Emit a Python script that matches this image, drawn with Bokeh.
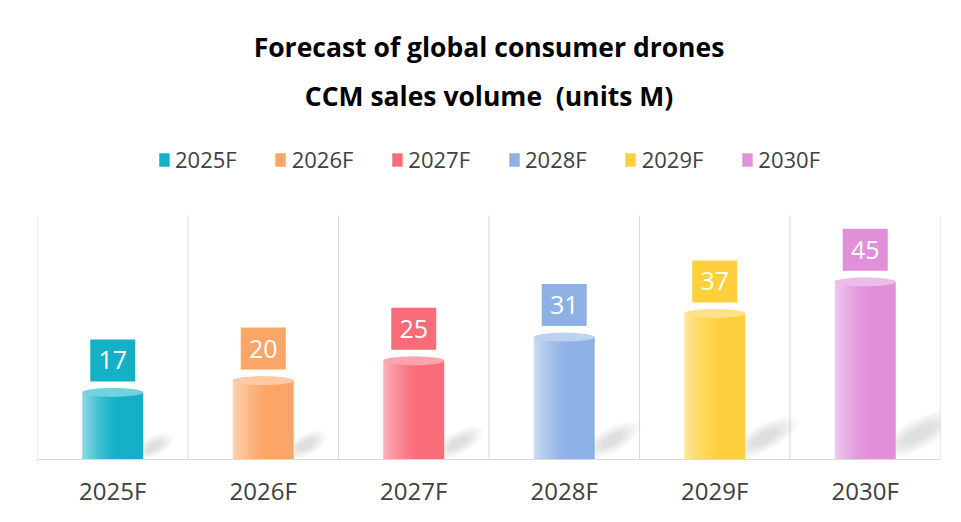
import numpy as np
from bokeh.plotting import figure
from bokeh.models import Range1d, FixedTicker, Legend, LegendItem, Label, ColumnDataSource
from bokeh.embed import file_html
from bokeh.resources import INLINE
from bokeh.core.properties import value

# ---------------- data ----------------
categories = ["2025F", "2026F", "2027F", "2028F", "2029F", "2030F"]
sales = [17, 20, 25, 31, 37, 45]
colors_main = ["#13B0C6", "#FBA566", "#F86C79", "#8EB1E5", "#FFD03D", "#E08FD8"]
colors_light = ["#8AD8E4", "#FDD3B1", "#FBB0B7", "#C9DAF4", "#FEE69B", "#EFC6EC"]
title_lines = ["Forecast of global consumer drones", "CCM sales volume\u00a0\u00a0(units M)"]
Y_AXIS_MAX = 61.8

# ---------------- layout ----------------
W, H = 953, 514
BL, BR, BT, BB = 37, 13, 0, 55
FRAME_H = H - BT - BB
PLOT_H = 244
pxu = PLOT_H / Y_AXIS_MAX
y_end = FRAME_H / pxu
CAT_PX = (W - BL - BR) / len(categories)
BAR_W = 0.405
N_SLICES = 28


def hex2rgb(h):
    h = h.lstrip("#")
    return np.array([int(h[i:i + 2], 16) for i in (0, 2, 4)], dtype=float)


def mix(a, b, t):
    c = hex2rgb(a) * (1 - t) + hex2rgb(b) * t
    return "#%02x%02x%02x" % tuple(int(round(v)) for v in c)


p = figure(width=W, height=H, x_range=Range1d(0, 6), y_range=Range1d(0, y_end),
           output_backend="svg", toolbar_location=None, y_axis_location=None,
           min_border_left=BL, min_border_right=BR, min_border_top=BT, min_border_bottom=BB)
p.outline_line_color = None
p.grid.visible = False
p.background_fill_color = "white"
p.border_fill_color = "white"

n = len(categories)
centers = [i + 0.5 for i in range(n)]

# category separators (vertical grid lines)
bounds = list(range(n + 1))
p.segment(x0=bounds, y0=[0] * len(bounds), x1=bounds, y1=[Y_AXIS_MAX] * len(bounds),
          line_color="#D9D9D9", line_width=1)

# soft shadows (layered rotated ellipses)
for layer in range(8):
    s = 1.0 - layer * 0.09
    xs, ys, ws, hs = [], [], [], []
    for c, v in zip(centers, sales):
        hpx = v * pxu
        Lpx = 0.42 * hpx + 14
        Tpx = 0.09 * hpx + 14
        xr = c + BAR_W / 2
        xs.append(xr + (0.26 * Lpx) / CAT_PX)
        ys.append((0.11 * hpx + 6) / pxu)
        ws.append(Lpx * s)
        hs.append(Tpx * s)
    p.ellipse(x=xs, y=ys, width=ws, height=hs, width_units="screen", height_units="screen",
              angle=0.5, fill_color="#808080", fill_alpha=0.032, line_color=None)

# cylinder bodies as gradient slices
bar_renderers = []
for i, (c, v) in enumerate(zip(centers, sales)):
    left0 = c - BAR_W / 2
    dw = BAR_W / N_SLICES
    lefts, rights, cols = [], [], []
    for k in range(N_SLICES):
        t = k / (N_SLICES - 1)
        f = min(1.0, t / 0.62)
        f = 1 - (1 - f) ** 1.6
        lefts.append(left0 + k * dw)
        rights.append(left0 + (k + 1) * dw + (dw * 0.6 if k < N_SLICES - 1 else 0))
        cols.append(mix(colors_light[i], colors_main[i], f))
    src = ColumnDataSource(dict(left=lefts, right=rights, top=[v] * N_SLICES,
                                bottom=[0] * N_SLICES, color=cols))
    r = p.quad(left="left", right="right", top="top", bottom="bottom", source=src,
               fill_color="color", line_color=None)
    bar_renderers.append(r)

# cylinder tops
top_cols = [mix(mix(colors_light[i], colors_main[i], 0.35), "#ffffff", 0.12) for i in range(n)]
p.ellipse(x=centers, y=sales, width=BAR_W, height=9, height_units="screen",
          fill_color=top_cols, line_color=None)

# value boxes
LABEL_OFF_PX = 32
box_y = [v + LABEL_OFF_PX / pxu for v in sales]
p.rect(x=centers, y=box_y, width=45, height=42, width_units="screen", height_units="screen",
       fill_color=colors_main, line_color=None)
p.text(x=centers, y=box_y, text=[str(v) for v in sales], text_color="white",
       text_font=value("Open Sans"), text_font_size="25px", text_align="center",
       text_baseline="middle")

# x axis
p.xaxis.ticker = FixedTicker(ticks=centers)
p.xaxis.major_label_overrides = {c: cat for c, cat in zip(centers, categories)}
p.xaxis.axis_line_color = "#D9D9D9"
p.xaxis.major_tick_line_color = None
p.xaxis.minor_tick_line_color = None
p.xaxis.major_label_text_font = "Open Sans"
p.xaxis.major_label_text_font_size = "24px"
p.xaxis.major_label_text_color = "#404040"
p.xaxis.major_label_standoff = 8

# titles
for txt, cy in zip(title_lines, [46, 95]):
    p.add_layout(Label(x=3, y=(FRAME_H - cy) / pxu, text=txt, text_align="center",
                       text_baseline="middle", text_font="Open Sans", text_font_style="bold",
                       text_font_size="26.5px", text_color="#000000"))

# legend
items = [LegendItem(label=cat, renderers=[bar_renderers[i]], index=N_SLICES - 1)
         for i, cat in enumerate(categories)]
legend = Legend(items=items, orientation="horizontal", location="top_center",
                glyph_width=13, glyph_height=17, label_standoff=5, spacing=37,
                padding=0, margin=144, label_text_font="Open Sans",
                label_text_font_size="22px", label_text_color="#404040",
                background_fill_alpha=0, border_line_color=None)
p.add_layout(legend, "center")

open("out.html", "w").write(file_html(p, INLINE))
